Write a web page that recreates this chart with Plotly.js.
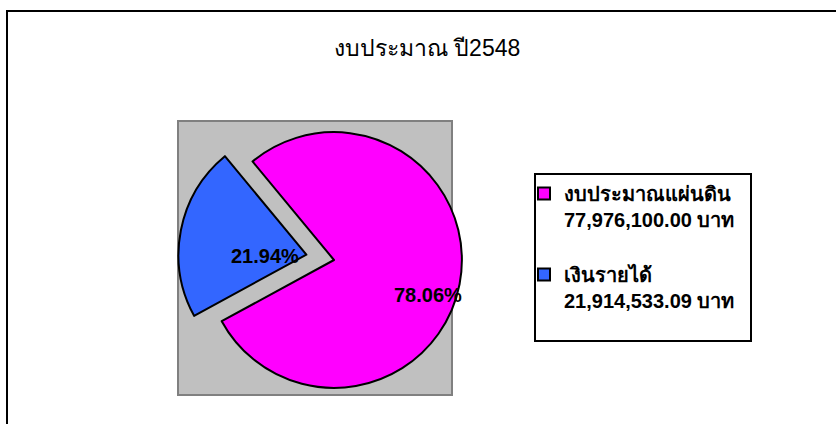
<!DOCTYPE html>
<html>
<head>
<meta charset="utf-8">
<script src="https://cdn.plot.ly/plotly-3.0.1.min.js"></script>
<style>
  html, body { margin: 0; padding: 0; background: #ffffff; }
  #chart { width: 836px; height: 424px; }
</style>
</head>
<body>
<div id="chart"></div>
<script>
// ---- data ----
const categories = ['งบประมาณแผ่นดิน', 'เงินรายได้'];
const amounts = [77976100.00, 21914533.09];
const currencyUnit = 'บาท';
const sliceColors = ['#FF00FF', '#3366FF'];
const titleText = 'งบประมาณ ปี2548';

const total = amounts.reduce((a, b) => a + b, 0);
const percentTexts = amounts.map(v => (v / total * 100).toFixed(2) + '%');
const fmt = v => v.toLocaleString('en-US', {minimumFractionDigits: 2, maximumFractionDigits: 2});
const legendLabels = categories.map((c, i) => c + '<br>' + fmt(amounts[i]) + ' ' + currencyUnit + '<br> ');

const W = 836, H = 424;
const px = x => x / W;
const py = y => 1 - y / H;

const FONT = 'Liberation Sans, Arial, sans-serif';

const trace = {
  type: 'pie',
  labels: legendLabels,
  values: amounts,
  sort: false,
  direction: 'clockwise',
  rotation: -39.6,
  pull: [0, 0.22],
  marker: { colors: sliceColors, line: { color: '#000000', width: 2 } },
  textinfo: 'none',
  hoverinfo: 'none',
  domain: { x: [px(334 - 156), px(334 + 156)], y: [py(260 + 156), py(260 - 156)] }
};

// label anchor positions (pixels) for the percent labels, in slice order
const labelPos = [[428, 295], [265, 256]];

const annotations = percentTexts.map((t, i) => ({
  text: t, showarrow: false, xref: 'paper', yref: 'paper',
  x: px(labelPos[i][0]), y: py(labelPos[i][1]), xanchor: 'center', yanchor: 'middle',
  font: { family: FONT, size: 20, color: '#000000', weight: 'bold' }
}));

const layout = {
  width: W, height: H,
  margin: { l: 0, r: 0, t: 0, b: 0 },
  paper_bgcolor: '#ffffff',
  showlegend: true,
  title: {
    text: titleText,
    x: px(427), xanchor: 'center',
    y: py(48), yanchor: 'middle',
    font: { family: FONT, size: 23, color: '#000000' }
  },
  legend: {
    x: px(524), xanchor: 'left',
    y: py(174), yanchor: 'top',
    bgcolor: 'rgba(0,0,0,0)',
    borderwidth: 0,
    valign: 'top',
    font: { family: FONT, size: 20, color: '#000000', weight: 'bold' }
  },
  annotations: annotations,
  shapes: [
    { type: 'rect', xref: 'paper', yref: 'paper', layer: 'below',
      x0: px(7), x1: px(900), y0: py(480), y1: py(11),
      line: { color: '#000000', width: 2 }, fillcolor: 'rgba(0,0,0,0)' },
    { type: 'rect', xref: 'paper', yref: 'paper', layer: 'below',
      x0: px(178), x1: px(452), y0: py(395), y1: py(121),
      line: { color: '#808080', width: 2 }, fillcolor: '#C0C0C0' },
    { type: 'rect', xref: 'paper', yref: 'paper', layer: 'below',
      x0: px(535), x1: px(751), y0: py(341), y1: py(174),
      line: { color: '#000000', width: 2 }, fillcolor: '#ffffff' }
  ]
};

Plotly.newPlot('chart', [trace], layout, { displayModeBar: false, staticPlot: true });
</script>
</body>
</html>
